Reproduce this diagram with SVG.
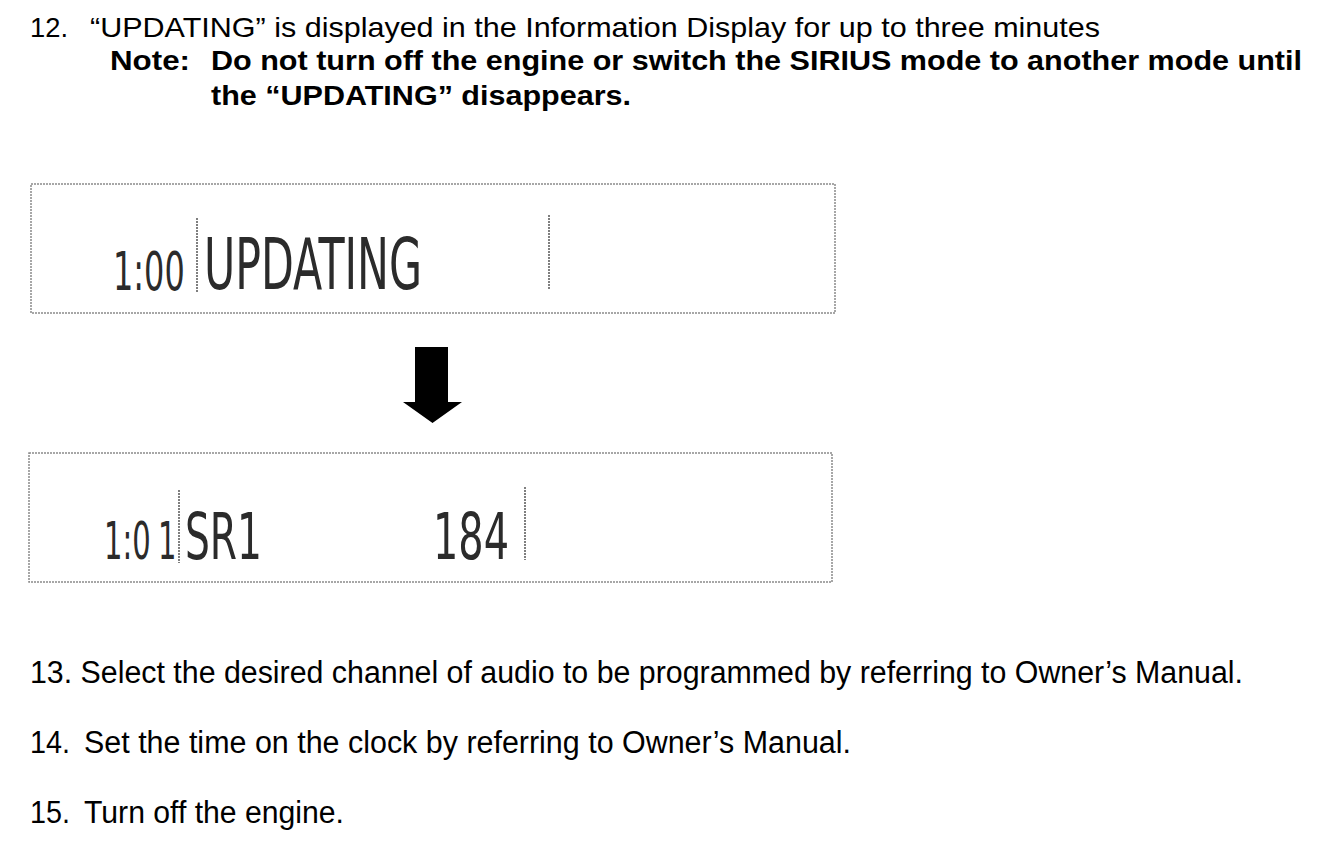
<svg xmlns="http://www.w3.org/2000/svg" width="1328" height="844" viewBox="0 0 1328 844">
<style>
.t{font-family:"Liberation Sans",Arial,sans-serif;font-size:28px;fill:#000}
.b{font-weight:bold}
.s{font-size:31px}
.lcd{font-family:"Liberation Sans Narrow","DejaVu Sans Condensed","Liberation Sans",sans-serif;fill:#2b2b2b}
.box{fill:#fff;stroke:#8a8a8a;stroke-width:1.5;stroke-dasharray:2 1}
.sep{stroke:#555;stroke-width:1.5;stroke-dasharray:2 1}
</style>
<rect width="1328" height="844" fill="#fff"/>
<g id="step12">
<text class="t" x="30" y="37" textLength="38" lengthAdjust="spacingAndGlyphs">12.</text>
<text class="t" x="90" y="37" textLength="1010" lengthAdjust="spacingAndGlyphs">“UPDATING” is displayed in the Information Display for up to three minutes</text>
<text class="t b" x="110" y="70" textLength="80" lengthAdjust="spacingAndGlyphs">Note:</text>
<text class="t b" x="211" y="70" textLength="1091" lengthAdjust="spacingAndGlyphs">Do not turn off the engine or switch the SIRIUS mode to another mode until</text>
<text class="t b" x="211" y="105" textLength="420" lengthAdjust="spacingAndGlyphs">the “UPDATING” disappears.</text>
</g>
<g id="display1">
<rect class="box" x="31" y="184" width="804" height="129"/>
<line class="sep" x1="197" y1="218" x2="197" y2="293"/>
<line class="sep" x1="549" y1="215" x2="549" y2="290"/>
<text class="lcd" transform="translate(113,290) scale(0.67,1)" x="0" y="0" font-size="53">1:00</text>
<text class="lcd" x="204" y="289" font-size="71" textLength="218" lengthAdjust="spacingAndGlyphs">UPDATING</text>
</g>
<g id="connectors">
<polygon points="415,347 448,347 448,402 462,402 432.5,423 403,402 415,402" fill="#000"/>
</g>
<g id="display2">
<rect class="box" x="29" y="453" width="803" height="129"/>
<line class="sep" x1="179" y1="490" x2="179" y2="563"/>
<line class="sep" x1="525" y1="487" x2="525" y2="560"/>
<text class="lcd" transform="translate(104,559) scale(0.62,1)" x="0" y="0" font-size="52">1:0<tspan x="87">1</tspan></text>
<text class="lcd" x="185" y="559" font-size="64" textLength="77" lengthAdjust="spacingAndGlyphs">SR1</text>
<text class="lcd" x="433" y="559" font-size="64" textLength="76" lengthAdjust="spacingAndGlyphs">184</text>
</g>
<g id="steps13to15">
<text class="t s" x="30" y="683" textLength="1213" lengthAdjust="spacingAndGlyphs">13. Select the desired channel of audio to be programmed by referring to Owner’s Manual.</text>
<text class="t s" x="30" y="753" textLength="40" lengthAdjust="spacingAndGlyphs">14.</text>
<text class="t s" x="84" y="753" textLength="767" lengthAdjust="spacingAndGlyphs">Set the time on the clock by referring to Owner’s Manual.</text>
<text class="t s" x="30" y="823" textLength="40" lengthAdjust="spacingAndGlyphs">15.</text>
<text class="t s" x="84" y="823" textLength="260" lengthAdjust="spacingAndGlyphs">Turn off the engine.</text>
</g>
</svg>
